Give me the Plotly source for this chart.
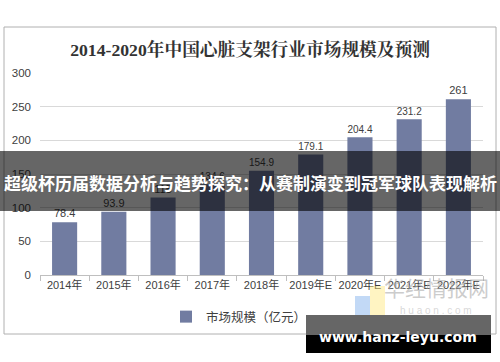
import plotly.graph_objects as go

categories = ["2014年", "2015年", "2016年", "2017年", "2018年", "2019年E", "2020年E", "2021年E", "2022年E"]
values = [78.4, 93.9, 115, 134.6, 154.9, 179.1, 204.4, 231.2, 261]
series_name = "市场规模（亿元）"
title_text = "2014-2020年中国心脏支架行业市场规模及预测"
banner_text = "超级杯历届数据分析与趋势探究：从赛制演变到冠军球队表现解析"
site_text = "www.hanz-leyu.com"

W, H = 500, 362
L, R, T, B = 40, 17, 73, 87
PW, PH = W - L - R, H - T - B


def px(x):
    return (x - L) / PW


def py(y):
    return (H - B - y) / PH


SANS = "Liberation Sans, Arial, Noto Sans CJK SC, sans-serif"
CJK = "Noto Sans CJK SC, sans-serif"

fig = go.Figure()
fig.add_trace(go.Bar(
    x=categories, y=values, name=series_name,
    marker=dict(color="#717ca1", line=dict(width=0)),
    text=[f"{v:g}" for v in values], textposition="outside",
    textfont=dict(family=SANS, size=11, color="#404040"),
    cliponaxis=False, showlegend=True,
))

shapes = [
    # outer frame
    dict(type="rect", xref="paper", yref="paper", x0=px(4), x1=px(496), y0=py(27), y1=py(334),
         line=dict(color="#b0b0b0", width=1), fillcolor="rgba(0,0,0,0)", layer="below"),
    # watermark blocks
    dict(type="rect", xref="paper", yref="paper", x0=px(355), x1=px(370), y0=py(296), y1=py(318),
         line=dict(width=0), fillcolor="rgba(120,170,235,0.45)", layer="above"),
    dict(type="rect", xref="paper", yref="paper", x0=px(370), x1=px(385), y0=py(286), y1=py(316),
         line=dict(width=0), fillcolor="rgba(255,230,120,0.45)", layer="above"),
    # banner
    dict(type="rect", xref="paper", yref="paper", x0=px(0), x1=px(500), y0=py(151), y1=py(211),
         line=dict(width=0), fillcolor="rgba(0,0,0,0.6)", layer="above"),
    # site box
    dict(type="rect", xref="paper", yref="paper", x0=px(306), x1=px(491), y0=py(315), y1=py(335),
         line=dict(width=0), fillcolor="#666666", layer="above"),
    dict(type="rect", xref="paper", yref="paper", x0=px(306), x1=px(491), y0=py(335), y1=py(353),
         line=dict(width=0), fillcolor="#000000", layer="above"),
]

annotations = [
    dict(text="华经情报网", xref="paper", yref="paper", x=px(436), y=py(287), showarrow=False,
         font=dict(family=CJK, size=21, color="rgba(170,170,170,0.6)"), xanchor="center", yanchor="middle"),
    dict(text="h u a o n . c o m", xref="paper", yref="paper", x=px(436), y=py(310), showarrow=False,
         font=dict(family=SANS, size=10, color="rgba(190,190,190,0.6)"), xanchor="center", yanchor="middle"),
    dict(text="<b>" + banner_text + "</b>", xref="paper", yref="paper", x=px(250), y=py(182), showarrow=False,
         font=dict(family=CJK, size=17, color="#ffffff"), xanchor="center", yanchor="middle"),
    dict(text="<b>" + site_text + "</b>", xref="paper", yref="paper", x=px(398), y=py(337), showarrow=False,
         font=dict(family="DejaVu Sans, sans-serif", size=14, color="#ffffff"), xanchor="center", yanchor="middle"),
]

fig.update_layout(
    width=W, height=H,
    margin=dict(l=L, r=R, t=T, b=B),
    paper_bgcolor="white", plot_bgcolor="white",
    title=dict(text="<b>" + title_text + "</b>", x=0.5, xanchor="center", y=1 - 50 / H, yanchor="middle",
               font=dict(family="Liberation Serif, Noto Serif CJK SC, Noto Sans CJK SC, serif", size=17.7, color="#333333")),
    bargap=0.49,
    showlegend=True,
    legend=dict(orientation="h", x=px(166), xanchor="left", y=py(317), yanchor="middle",
                font=dict(family=CJK, size=12.5, color="#404040"), bgcolor="rgba(0,0,0,0)"),
    xaxis=dict(type="category", showline=True, linecolor="#bfbfbf", linewidth=1,
               ticks="outside", tickson="boundaries", ticklen=5, tickcolor="#bfbfbf", tickangle=0,
               automargin=False,
               tickfont=dict(family=SANS, size=11, color="#404040"), showgrid=False),
    yaxis=dict(range=[0, 300], dtick=50, showgrid=True, gridcolor="#d9d9d9", gridwidth=1,
               zeroline=False, ticks="", ticklabelstandoff=8, automargin=False,
               tickfont=dict(family=SANS, size=11.5, color="#404040")),
    shapes=shapes,
    annotations=annotations,
)

fig.write_html("out.html", config={"displayModeBar": False},
               post_script="document.body.style.margin='0';document.body.style.overflow='hidden';")
